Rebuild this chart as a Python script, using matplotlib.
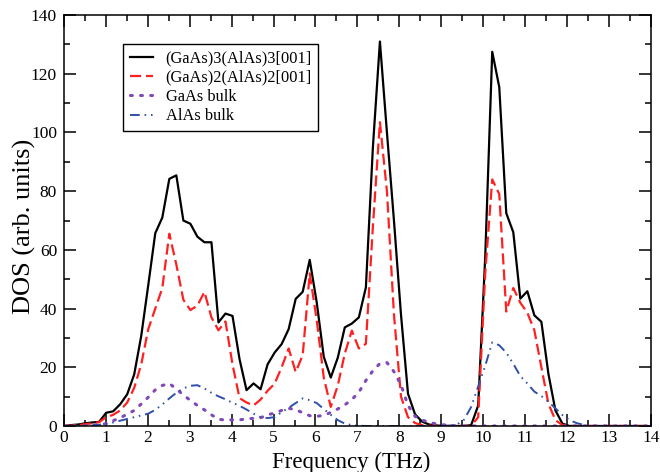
"""
Phonon DOS of GaAs/AlAs superlattices vs bulk, redrawn from the xmgrace figure.
"""

import numpy as np
import matplotlib
matplotlib.use("Agg")
import matplotlib.pyplot as plt
from matplotlib.ticker import MultipleLocator


FREQ_STEP = 0.1675
N_POINTS = 84

sl33_dos = [
    0, 0.3, 0.5, 0.9, 1.2, 1.4, 4.5, 5.0, 7.4, 10.8,
    17.6, 30.7, 48, 65.7, 71, 84.2, 85.4, 70, 68.9, 64.5,
    62.6, 62.6, 35.3, 38.3, 37.5, 22.8, 12.2, 14.5, 12.5, 21,
    25, 27.9, 33, 43.3, 45.7, 56.6, 42.1, 23.6, 16.5, 23.3,
    33.6, 34.9, 37, 47.2, 95, 131, 100, 70, 38, 11,
    4, 1.5, 0.5, 0.2, 0, 0, 0, 0, 0.3, 7,
    57.6, 127.5, 115.5, 72.5, 66, 43.4, 45.9, 37.7, 35.5, 17.8,
    5.3, 0.8, 0, 0, 0, 0, 0, 0, 0, 0,
    0, 0, 0, 0,
]

sl22_dos = [
    0, 0.1, 0.3, 0.6, 0.9, 1.3, 3.0, 3.8, 5.3, 8,
    13, 21, 33, 40, 47, 65.5, 55, 43, 39.5, 41,
    45.7, 37, 32.6, 35.6, 21, 9.5, 8, 7, 9, 12,
    14.4, 20, 26.4, 18.4, 24.1, 52, 36, 16.5, 6.5, 13.8,
    24.7, 32.5, 26.4, 28, 68, 103.5, 80, 38, 10, 3,
    1, 0.3, 0.1, 0, 0, 0, 0, 0, 0, 3,
    52, 84, 79, 39, 47, 42, 38.6, 32.6, 20, 7.6,
    2, 0.3, 0, 0, 0, 0, 0, 0, 0, 0,
    0, 0, 0, 0,
]

gaas_dos = [
    0, 0, 0, 0.1, 0.2, 0.4, 0.8, 1.8, 2.8, 4,
    5.3, 7.5, 9.8, 12.3, 13.8, 14.5, 12.6, 10.6, 8.7, 7,
    5.5, 3.8, 2.3, 2.0, 2.1, 2.1, 2.4, 2.6, 2.8, 3.8,
    4.4, 5.3, 6, 5.6, 4.5, 3.5, 3.3, 3.6, 4.6, 5.8,
    7.2, 9, 11.5, 15.5, 18.8, 21.3, 21.6, 18.5, 14, 7,
    3.3, 2.0, 1.3, 0.7, 0.4, 0.2, 0, 0, 0, 0,
    0, 0, 0, 0, 0, 0, 0, 0, 0, 0,
    0, 0, 0, 0, 0, 0, 0, 0, 0, 0,
    0, 0, 0, 0,
]

alas_dos = [
    0, 0, 0, 0.1, 0.2, 0.4, 0.7, 1.2, 1.8, 2.4,
    3, 3.6, 4.2, 5.5, 7.3, 9.4, 11.3, 12.8, 13.7, 13.9,
    12.8, 11.3, 10.1, 9.1, 7.9, 6.9, 5.6, 4.2, 3, 2.7,
    3, 4.7, 6.2, 7.8, 9.4, 8.8, 7.8, 5.8, 3.8, 2,
    0.8, 0.3, 0.1, 0, 0, 0, 0, 0, 0, 0,
    0, 0, 0, 0, 0, 0.1, 0.5, 2.2, 6.5, 13.5,
    20.5, 28.5, 27.5, 25, 21.2, 17, 14.5, 11.7, 10.2, 8.3,
    6, 3.7, 2, 1, 0.4, 0.1, 0, 0, 0, 0,
    0, 0, 0, 0,
]

labels = ["(GaAs)3(AlAs)3[001]", "(GaAs)2(AlAs)2[001]", "GaAs bulk", "AlAs bulk"]

freq = np.arange(N_POINTS) * FREQ_STEP


# ── plot ──────────────────────────────────────────────────────────────────────
plt.rcParams["font.family"] = ["Liberation Serif", "DejaVu Serif"]

fig = plt.figure(figsize=(6.6, 4.72), dpi=100)
ax = fig.add_axes([0.097, 0.0975, 0.889, 0.8705])

ax.plot(freq, sl33_dos, color="black", lw=1.6, label=labels[0])
ax.plot(freq, sl22_dos, color="#ff2020", lw=1.6,
        linestyle=(0, (5, 2.2)), label=labels[1])
ax.plot(freq, gaas_dos, color="#8048b8", lw=2.2,
        linestyle=(0, (0.6, 2.7)), dash_capstyle="round", label=labels[2])
ax.plot(freq, alas_dos, color="#3050a8", lw=1.4,
        linestyle=(0, (5, 2.5, 0.8, 2.5, 0.8, 2.5)), label=labels[3])

ax.set_xlim(0, 14)
ax.set_ylim(0, 140)
ax.xaxis.set_major_locator(MultipleLocator(1))
ax.xaxis.set_minor_locator(MultipleLocator(0.5))
ax.yaxis.set_major_locator(MultipleLocator(20))
ax.yaxis.set_minor_locator(MultipleLocator(10))
ax.tick_params(which="both", direction="in", top=True, right=True,
               width=1.1, labelsize=12.5)
ax.tick_params(axis="y", pad=5)
ax.tick_params(axis="x", pad=3)
ax.tick_params(which="major", length=8.5)
ax.tick_params(which="minor", length=4.5)
for sp in ax.spines.values():
    sp.set_linewidth(1.1)

ax.set_xlabel("Frequency (THz)", fontsize=16.5)
ax.set_ylabel("DOS (arb. units)", fontsize=19)
ax.xaxis.set_label_coords(0.489, -0.063)
ax.yaxis.set_label_coords(-0.047, 0.485)

leg = ax.legend(loc="upper left", bbox_to_anchor=(0.101, 0.929), fontsize=11.8,
                frameon=True, fancybox=False, framealpha=1,
                edgecolor="black", handlelength=1.45, handletextpad=0.75,
                borderpad=0.38, labelspacing=0.2, borderaxespad=0)
leg.get_frame().set_linewidth(1.0)

fig.savefig("out.png", dpi=100)
plt.close(fig)
